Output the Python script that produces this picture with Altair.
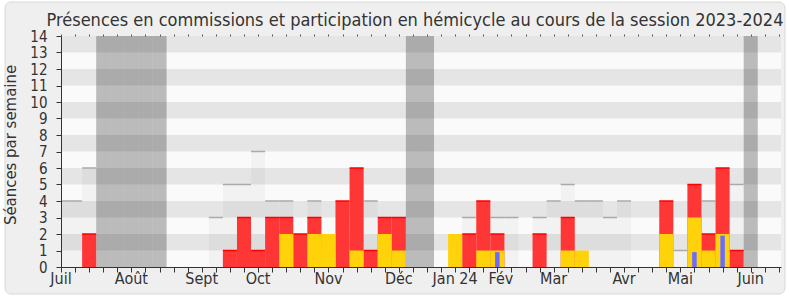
import altair as alt
import pandas as pd

# ---- data (week index 0 = first week of July 2023) ----
weeks = list(range(52))

presence_weeks = [0, 1, 2, 11, 12, 13, 14, 15, 16, 18, 22, 29, 31, 32, 34, 35, 36, 37, 38, 39, 40, 44, 46, 48]
presence_vals = [4, 4, 6, 3, 5, 5, 7, 4, 4, 4, 4, 3, 3, 3, 3, 4, 5, 4, 4, 3, 4, 1, 4, 5]

red_weeks = [2, 12, 13, 14, 15, 16, 17, 18, 20, 21, 22, 23, 24, 29, 30, 31, 34, 36, 43, 45, 46, 47, 48]
red_vals = [2, 1, 3, 1, 3, 3, 2, 3, 4, 6, 1, 3, 3, 2, 4, 2, 2, 3, 4, 5, 2, 6, 1]

yellow_weeks = [16, 18, 19, 21, 23, 24, 28, 30, 31, 36, 37, 43, 45, 46, 47]
yellow_vals = [2, 2, 2, 1, 2, 1, 2, 1, 1, 1, 1, 2, 3, 1, 2]

blue_weeks = [31, 45, 47]
blue_vals = [0.9, 0.9, 1.9]

vacation_weeks = [3, 4, 5, 6, 7, 25, 26, 49]

stripe_lo = [1, 3, 5, 7, 9, 11, 13]

month_pos = [0, 5, 10, 14, 19, 24, 28, 31.25, 35, 40, 44, 49]
month_names = ["Juil", "Août", "Sept", "Oct", "Nov", "Déc", "Jan 24", "Fév", "Mar", "Avr", "Mai", "Juin"]

y_ticks = list(range(15))

TITLE = "Présences en commissions et participation en hémicycle au cours de la session 2023-2024"
Y_TITLE = "Séances par semaine"

FONT = "DejaVu Sans Condensed, DejaVu Sans"

# ---- tables ----
def week_df(ws, vals=None, half=0.5):
    d = pd.DataFrame({"w": ws})
    d["lo"] = d["w"] - half
    d["hi"] = d["w"] + half
    if vals is not None:
        d["v"] = vals
    return d

pres_df = week_df(presence_weeks, presence_vals)
red_df = week_df(red_weeks, red_vals)
yel_df = week_df(yellow_weeks, yellow_vals)
blue_df = week_df(blue_weeks, blue_vals, half=0.16)
vac_df = week_df(vacation_weeks)
vac_df["y0"] = 0
vac_df["y1"] = 14
stripe_df = pd.DataFrame({"lo": stripe_lo})
stripe_df["hi"] = stripe_df["lo"] + 1
tick_df = pd.DataFrame({"w": weeks})
ytick_df = pd.DataFrame({"v": y_ticks})
month_df = pd.DataFrame({"pos": month_pos, "name": month_names})
title_df = pd.DataFrame({"t": [TITLE]})
ytitle_df = pd.DataFrame({"t": [Y_TITLE]})

W, H = 720, 231
xs = alt.Scale(domain=[0, 51.15], nice=False, zero=False)
ys = alt.Scale(domain=[0, 14], nice=False, zero=True)

one = pd.DataFrame({"a": [0]})

bg = alt.Chart(one).mark_rect(
    fill="#efefef", stroke="#d8d8d8", strokeWidth=1, cornerRadius=6
).encode(x=alt.value(-56), x2=alt.value(724), y=alt.value(-34), y2=alt.value(258))

plotbg = alt.Chart(one).mark_rect(fill="#fafafa").encode(
    x=alt.value(0), x2=alt.value(W), y=alt.value(0), y2=alt.value(H)
)

stripes = alt.Chart(stripe_df).mark_rect(fill="#e5e5e5").encode(
    x=alt.value(0), x2=alt.value(W),
    y=alt.Y("lo:Q", scale=ys, axis=None),
    y2="hi:Q",
)

yaxis = alt.Chart(ytick_df).mark_point(opacity=0).encode(
    x=alt.value(0),
    y=alt.Y("v:Q", scale=ys, axis=alt.Axis(
        orient="left", values=y_ticks, title=None, tickSize=5, labelPadding=9,
        labelFontSize=15, labelFont=FONT, domainColor="#333", tickColor="#333",
        labelColor="#333", grid=False, zindex=2, labelOverlap=False)),
)

vac = alt.Chart(vac_df).mark_rect(fill="#000", opacity=0.25, clip=True).encode(
    x=alt.X("lo:Q", scale=xs, axis=alt.Axis(
        orient="top", values=weeks, labels=False, domain=False, grid=False,
        tickSize=2, tickColor="#555", tickWidth=1, title=None, zindex=2)),
    x2="hi:Q",
    y=alt.Y("y0:Q", scale=ys, axis=None),
    y2="y1:Q",
)

ticks = alt.Chart(tick_df).mark_point(opacity=0).encode(
    x=alt.X("w:Q", scale=xs, axis=alt.Axis(
        orient="bottom", values=weeks, labels=False, tickSize=5, grid=False,
        domainColor="#333", tickColor="#333", title=None, zindex=2)),
    y=alt.value(H),
)

pres_fill = alt.Chart(pres_df).mark_rect(fill="#000", opacity=0.03, clip=True).encode(
    x=alt.X("lo:Q", scale=xs, axis=None), x2="hi:Q",
    y=alt.Y("v:Q", scale=ys, axis=None), y2=alt.datum(0),
)
pres_line = alt.Chart(pres_df).mark_rule(color="#aaaaaa", strokeWidth=1.5, clip=True).encode(
    x=alt.X("lo:Q", scale=xs, axis=None), x2="hi:Q",
    y=alt.Y("v:Q", scale=ys, axis=None),
)

red = alt.Chart(red_df).mark_rect(fill="#ff3636", clip=True).encode(
    x=alt.X("lo:Q", scale=xs, axis=None), x2="hi:Q",
    y=alt.Y("v:Q", scale=ys, axis=None), y2=alt.datum(0),
)
red_line = alt.Chart(red_df).mark_rule(color="#ff0000", strokeWidth=1.5, clip=True).encode(
    x=alt.X("lo:Q", scale=xs, axis=None), x2="hi:Q",
    y=alt.Y("v:Q", scale=ys, axis=None),
)

yel = alt.Chart(yel_df).mark_rect(fill="#ffd20a", clip=True).encode(
    x=alt.X("lo:Q", scale=xs, axis=None), x2="hi:Q",
    y=alt.Y("v:Q", scale=ys, axis=None), y2=alt.datum(0),
)

blue = alt.Chart(blue_df).mark_rect(fill="#6b6bff", clip=True).encode(
    x=alt.X("lo:Q", scale=xs, axis=None), x2="hi:Q",
    y=alt.Y("v:Q", scale=ys, axis=None), y2=alt.datum(0),
)

months = alt.Chart(month_df).mark_text(
    fontSize=16, font=FONT, color="#333", baseline="alphabetic", align="center"
).encode(
    x=alt.X("pos:Q", scale=xs, axis=None),
    y=alt.value(H + 17),
    text="name:N",
)

title = alt.Chart(title_df).mark_text(
    fontSize=18, font=FONT, color="#333", baseline="alphabetic", align="center"
).encode(x=alt.value(354), y=alt.value(-10), text="t:N")

ytitle = alt.Chart(ytitle_df).mark_text(
    fontSize=16.6, font=FONT, color="#333", baseline="middle", align="center", angle=270
).encode(x=alt.value(-50), y=alt.value(109), text="t:N")

chart = alt.layer(
    bg, plotbg, stripes, vac, ticks, yaxis, pres_fill, pres_line, red, red_line, yel, blue,
    months, title, ytitle
).resolve_axis(
    y="independent", x="independent"
).properties(
    width=W, height=H,
    autosize=alt.AutoSizeParams(type="none"),
    padding={"left": 61, "top": 36, "right": 9, "bottom": 33},
).configure(
    font=FONT, background="white"
).configure_view(stroke=None)

chart.save("out.html", embed_options={"renderer": "svg", "actions": False})
